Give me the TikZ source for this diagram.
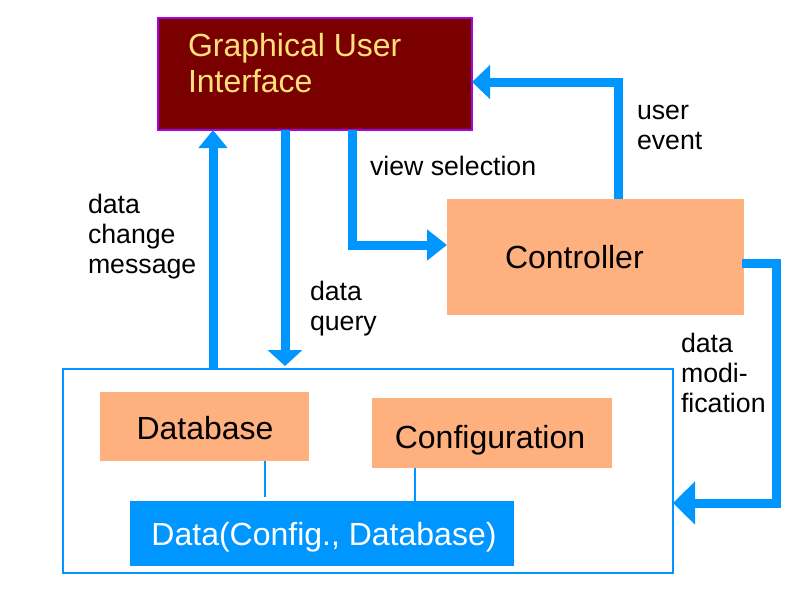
\documentclass[tikz,border=0pt]{standalone}
\usepackage{fontspec}
\setmainfont{Liberation Sans}
\usetikzlibrary{arrows.meta}
\definecolor{guired}{HTML}{7A0000}
\definecolor{guiborder}{HTML}{A800E8}
\definecolor{guitext}{HTML}{FFE07A}
\definecolor{peach}{HTML}{FFB07F}
\definecolor{skyblue}{HTML}{0096FF}
\tikzset{
  bigfont/.style={font=\fontsize{32}{36}\selectfont},
  lblfont/.style={font=\fontsize{26.7}{30}\selectfont},
  guibox/.style={draw=guiborder, line width=2.5pt, fill=guired, inner sep=0, outer sep=0},
  peachbox/.style={fill=peach, inner sep=0, outer sep=0},
  storebox/.style={draw=skyblue, line width=2pt, fill=white, inner sep=0, outer sep=0},
  databox/.style={fill=skyblue, inner sep=0, outer sep=0},
  txt/.style={inner sep=0, outer sep=0, align=left},
  flow/.style={draw=skyblue, line width=9pt, miter limit=10},
  thinlink/.style={draw=skyblue, line width=1.5pt}
}
\begin{document}
\begin{tikzpicture}[x=1pt,y=-1pt]
\useasboundingbox (0,0) rectangle (800,600);
% main boxes
\node[guibox, minimum width=314, minimum height=112] (gui) at (315,74) {};
\node[txt, bigfont, text=guitext, anchor=west] (guilbl) at (188,63) {Graphical User\\Interface};
\node[peachbox, minimum width=297, minimum height=116] (ctrl) at (595.5,257) {};
\node[txt, bigfont, anchor=west] (ctrllbl) at (505,257) {Controller};
\node[storebox, minimum width=610, minimum height=204] (store) at (368,471) {};
\node[peachbox, bigfont, minimum width=209, minimum height=69] (db) at (204.5,426.5) {};
\node[txt, bigfont] (dblbl) at (205,428) {Database};
\node[peachbox, bigfont, minimum width=240, minimum height=70] (conf) at (492,433) {};
\node[txt, bigfont] (conflbl) at (490,440) {Configuration};
\node[databox, minimum width=384, minimum height=65] (data) at (322,533.5) {};
\node[txt, bigfont, text=white] (datalbl) at (324,537) {Data(Config., Database)};
% thin links
\draw[thinlink] ([xshift=60.5pt]db.south) -- ([xshift=60.5pt]db.south |- data.north) [shorten >=4pt];
\draw[thinlink] ([xshift=-77pt]conf.south) -- ([xshift=-77pt]conf.south |- data.north);
% flows
\draw[flow, -{Triangle[width=28pt,length=18pt]}] ([xshift=150pt]store.north west) -- ([xshift=55pt]gui.south west);
\draw[flow, -{Triangle[width=34pt,length=16pt]}] ([xshift=127pt]gui.south west) -- ([xshift=222pt]store.north west) [shorten >=3pt];
\draw[flow, -{Triangle[width=30pt,length=20pt]}] ([xshift=194pt]gui.south west) |- ([yshift=12pt]ctrl.west);
\draw[flow, -{Triangle[width=33pt,length=18pt]}] ([xshift=171pt]ctrl.north west) |- ([yshift=-8pt]gui.east);
\draw[flow, -{Triangle[width=42pt,length=22pt]}] ([yshift=-6pt,xshift=-2pt]ctrl.east) -- ++(34,0) |- ([yshift=-32pt]store.east);
% labels
\node[txt, lblfont, anchor=west] (l1) at (88,237) {data\\change\\message};
\node[txt, lblfont, anchor=west] (l2) at (310,309) {data\\query};
\node[txt, lblfont, anchor=west] (l3) at (370,166) {view selection};
\node[txt, lblfont, anchor=west] (l4) at (637,127) {user\\event};
\node[txt, lblfont, anchor=west] (l5) at (681,373) {data\\modi-\\fication};
\end{tikzpicture}
\end{document}
